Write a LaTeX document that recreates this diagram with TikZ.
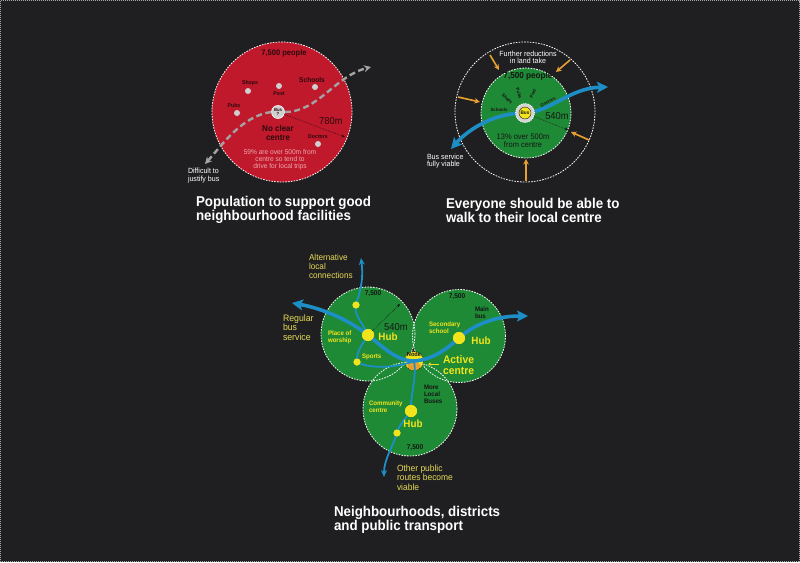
\documentclass[tikz,border=0pt]{standalone}
\usepackage{fontspec}
\setmainfont{Liberation Sans}[FakeStretch=0.94]
\usetikzlibrary{arrows.meta}
\definecolor{bg}{HTML}{1F1F21}
\definecolor{redc}{HTML}{C0192C}
\definecolor{greenc}{HTML}{1F8A36}
\definecolor{bluec}{HTML}{1E8FC6}
\definecolor{yel}{HTML}{F2E41C}
\definecolor{yeltxt}{HTML}{E6DA55}
\definecolor{orng}{HTML}{E8A030}
\definecolor{darktxt}{HTML}{151515}
\definecolor{darkred}{HTML}{2B080C}
\definecolor{pinktxt}{HTML}{EDA9AE}
\definecolor{greydot}{HTML}{CFCFCF}
\definecolor{gdashc}{HTML}{A3A3A3}
\begin{document}
\begin{tikzpicture}[x=1pt,y=-1pt,
  zone/.style={draw=white, line width=0.8pt, dash pattern=on 1.6pt off 1.2pt},
  fdot/.style={circle, fill=greydot, inner sep=0, minimum size=6pt},
  txt/.style={inner sep=0, outer sep=0},
  rlbl/.style={txt, font=\bfseries\fontsize{5.5}{6}\selectfont, text=darkred},
  glbl/.style={txt, font=\bfseries\fontsize{4.6}{5}\selectfont, text=darktxt},
  clbl/.style={txt, font=\bfseries\fontsize{6.5}{7.2}\selectfont, text=darktxt, align=left, anchor=west},
  ylbl/.style={txt, font=\bfseries\fontsize{6.5}{7.2}\selectfont, text=yel, align=left, anchor=west},
  hublbl/.style={txt, font=\bfseries\fontsize{10.5}{11}\selectfont, text=yel},
  yreg/.style={txt, font=\fontsize{9}{9.5}\selectfont, text=yeltxt, align=left, anchor=west},
  wlbl/.style={txt, font=\fontsize{7.5}{7.8}\selectfont, text=white, align=left, anchor=west},
  title/.style={txt, font=\bfseries\fontsize{14.2}{14}\selectfont, text=white, align=left, anchor=west},
  gdash/.style={draw=gdashc, line width=2.4pt, dash pattern=on 6pt off 3.5pt, -{Stealth[length=7pt,width=7pt]}},
  bigblue/.style={draw=bluec, line width=3.6pt, {Stealth[length=11pt,width=11pt,inset=2.5pt]}-{Stealth[length=11pt,width=11pt,inset=2.5pt]}},
  thinblue/.style={draw=bluec, line width=1.8pt},
  oarrow/.style={draw=orng, line width=1.6pt, -{Stealth[length=5.5pt,width=5.5pt]}},
  hub/.style={circle, fill=yel, inner sep=0, minimum size=12pt},
  ydot/.style={circle, fill=yel, inner sep=0, minimum size=7pt},
  meas/.style={draw=darktxt, line width=0.6pt, densely dotted, -{Stealth[length=3.5pt,width=3pt]}}
]
\useasboundingbox (0,0) rectangle (800,562);
\fill[bg] (0,0) rectangle (800,562);
\draw[gray!70, line width=0.6pt, dash pattern=on 1pt off 1pt] (0.5,0.5) rectangle (799.5,561.5);

% ================= Panel 1 =================
\node[circle, inner sep=0, minimum size=140pt, fill=redc, zone] (rc) at (282,112) {};
\node[txt, font=\bfseries\fontsize{8}{8}\selectfont, text=darkred] (rpeople) at (284,53) {7,500 people};
\node[fdot] (dshops) at (248,91) {};
\node[rlbl] (lshops) at (250,83) {Shops};
\node[fdot] (dpost) at (279,86) {};
\node[rlbl] (lpost) at (279,94) {Post};
\node[fdot] (dsch) at (315,87) {};
\node[txt, font=\bfseries\fontsize{7}{7}\selectfont, text=darkred] (lsch) at (312,80) {Schools};
\node[fdot] (dpubs) at (237,113) {};
\node[rlbl] (lpubs) at (234,106) {Pubs};
\node[fdot] (ddoc) at (318,144) {};
\node[rlbl] (ldoc) at (318,137) {Doctors};
\node[circle, inner sep=0, minimum size=13pt, fill=greydot, draw=white, line width=0.6pt,
      font=\bfseries\fontsize{4.5}{4.6}\selectfont, text=darkred, align=center] (bus1) at (278,112) {Bus\\?};
\coordinate (g1) at (205,164);
\coordinate (g2) at (371,67);
\draw[gdash] (bus1.west) .. controls (242,116) and (222,145) .. (g1);
\draw[gdash] (bus1.east) .. controls (318,112) and (335,76) .. (g2);
\coordinate (r780) at (345,137);
\draw[meas, draw=darkred] (bus1) -- (r780);
\node[txt, font=\fontsize{10}{10}\selectfont, text=darkred] (l780) at (331,121) {780m};
\node[txt, font=\bfseries\fontsize{8.5}{8.3}\selectfont, text=darkred, align=center] (noclear) at (278,133) {No clear\\centre};
\node[txt, font=\fontsize{7}{7}\selectfont, text=pinktxt, align=center] (p59) at (280,160) {59\% are over 500m from\\centre so tend to\\drive for local trips};
\node[wlbl] (diff) at (188,175.5) {Difficult to\\justify bus};
\node[title] (t1) at (196,210) {Population to support good\\neighbourhood facilities};

% ================= Panel 2 =================
\node[circle, inner sep=0, minimum size=140pt, zone] (outer) at (525,112) {};
\node[circle, inner sep=0, minimum size=90pt, fill=greenc, zone] (gc) at (526,113) {};
\coordinate (busc) at (525,113);
\coordinate (b1) at (451,149);
\coordinate (b2) at (608,87);
\draw[bigblue] (b1) .. controls (465,133) and (490,113) .. (busc) .. controls (550,112) and (570,88) .. (b2);
\node[circle, inner sep=0, minimum size=19pt, fill=greydot!90!white, draw=white, line width=0.7pt, dash pattern=on 1.2pt off 1pt] (ring) at (525,113) {};
\node[circle, inner sep=0, minimum size=12pt, fill=yel, draw=darktxt, line width=0.4pt,
      font=\bfseries\fontsize{5}{5}\selectfont, text=darktxt] (bus2) at (525,113) {Bus};
\coordinate (r540) at (568,130);
\draw[meas] (ring) -- (r540);
\node[txt, font=\fontsize{10}{10}\selectfont, text=darktxt] (l540) at (557,116) {540m};
\node[txt, font=\bfseries\fontsize{8.7}{9}\selectfont, text=darktxt] (gpeople) at (528,76.5) {7,500 people};
\node[glbl, rotate=-45] (gshops) at (507,99) {Shops};
\node[glbl, rotate=-72] (gpubs) at (519,93.5) {Pubs};
\node[glbl, rotate=68] (gpost) at (533,93.5) {Post};
\node[glbl, rotate=28] (gdoc) at (548,102) {Doctors};
\node[glbl] (gsch) at (499,109.5) {Schools};
\node[txt, font=\fontsize{8}{8}\selectfont, text=darktxt, align=center] (p13) at (523,141) {13\% over 500m\\from centre};
\node[txt, inner sep=0.6pt, fill=bg, font=\fontsize{7.5}{7}\selectfont, text=white, align=center] (further) at (528,57.5) {Further reductions\\in land take};
\node[wlbl] (bsv) at (427,161) {Bus service\\fully viable};
\coordinate (oa1s) at (490,55);   \coordinate (oa1e) at (499,70);
\coordinate (oa2s) at (570,60);   \coordinate (oa2e) at (556,72);
\coordinate (oa3s) at (458,97);   \coordinate (oa3e) at (480,102);
\coordinate (oa4s) at (589,140);  \coordinate (oa4e) at (571,132);
\coordinate (oa5s) at (526,181);  \coordinate (oa5e) at (526,159);
\draw[oarrow] (oa1s) -- (oa1e);
\draw[oarrow] (oa2s) -- (oa2e);
\draw[oarrow] (oa3s) -- (oa3e);
\draw[oarrow] (oa4s) -- (oa4e);
\draw[oarrow] (oa5s) -- (oa5e);
\node[title] (t2) at (446,210) {Everyone should be able to\\walk to their local centre};

% ================= Panel 3 =================
\fill[greenc] (368,334) circle (47);
\fill[greenc] (459,336) circle (46.5);
\fill[greenc] (410,409) circle (47);
\node[circle, inner sep=0, minimum size=94pt, zone] (ca) at (368,334) {};
\node[circle, inner sep=0, minimum size=93pt, zone] (cb) at (459,336) {};
\node[circle, inner sep=0, minimum size=94pt, zone] (cc) at (410,409) {};

% node marker
\node[circle, inner sep=0, minimum size=19pt, fill=yel, draw=darktxt, line width=0.6pt, dash pattern=on 1pt off 1pt] (nd) at (414,361) {};
\fill[orng] (414,366) ellipse (6.5 and 4);

\node[hub] (hubA) at (368,335) {};
\node[hub] (hubB) at (459,338) {};
\node[hub] (hubC) at (411,411) {};
\node[ydot] (d1) at (356,305) {};
\node[ydot] (d2) at (357,362) {};
\node[ydot] (d3) at (397,433) {};
\coordinate (t1l) at (292,303);
\coordinate (t2r) at (528,316);
\coordinate (t3) at (361,258);
\coordinate (t4) at (384,477);

% thin local lines
\draw[thinblue, -{Stealth[length=7pt,width=6pt]}] (hubA.center) .. controls (362,322) and (353,313) .. (d1.center) .. controls (359,294) and (364,282) .. (t3);
\draw[thinblue] (hubA.center) .. controls (362,345) and (356,352) .. (d2.center);
\draw[thinblue] (d2.center) .. controls (368,369) and (398,368) .. (nd.center);
\draw[thinblue, -{Stealth[length=7pt,width=6pt]}] (nd.center) .. controls (417,378) and (410,396) .. (hubC.center) .. controls (405,419) and (399,425) .. (d3.center) .. controls (392,448) and (384,460) .. (t4);
% main bus line
\draw[bigblue] (t1l) .. controls (320,308) and (346,318) .. (hubA.center) .. controls (384,348) and (397,361) .. (nd.center) .. controls (431,360) and (446,350) .. (hubB.center) .. controls (471,327) and (492,316) .. (t2r);

\node[hub] at (hubA) {};
\node[hub] at (hubB) {};
\node[hub] at (hubC) {};
\node[ydot] at (d1) {};
\node[ydot] at (d2) {};
\node[ydot] at (d3) {};
\node[txt, font=\bfseries\fontsize{6}{6}\selectfont, text=darktxt] (ndlbl) at (414,354.5) {Node};

\node[txt, font=\bfseries\fontsize{7}{7}\selectfont, text=darktxt] (pa) at (373,294) {7,500};
\node[txt, font=\bfseries\fontsize{7}{7}\selectfont, text=darktxt] (pb) at (457,297) {7,500};
\node[txt, font=\bfseries\fontsize{7}{7}\selectfont, text=darktxt] (pc) at (415,448) {7,500};
\coordinate (r540b) at (400,304);
\draw[meas] (hubA) -- (r540b);
\node[txt, font=\fontsize{10}{10}\selectfont, text=darktxt] (l540b) at (396,327) {540m};
\node[ylbl] (pow) at (328,337) {Place of\\worship};
\node[hublbl] (hA) at (388,337) {Hub};
\node[ylbl] (sports) at (362,357) {Sports};
\node[ylbl] (sec) at (429,327.5) {Secondary\\school};
\node[hublbl] (hB) at (481,341) {Hub};
\node[clbl] (mainbus) at (475,313) {Main\\bus};
\node[txt, font=\bfseries\fontsize{11}{10.5}\selectfont, text=yel, align=left, anchor=west] (active) at (443,365) {Active\\centre};
\coordinate (aa1) at (439,364);
\coordinate (aa2) at (428,364);
\draw[draw=yel, line width=0.8pt, -{Stealth[length=3pt,width=3pt]}] (aa1) -- (aa2);
\node[clbl] (morelocal) at (424,394) {More\\Local\\Buses};
\node[ylbl] (comm) at (369,407) {Community\\centre};
\node[hublbl] (hC) at (413,424) {Hub};
\node[yreg] (other) at (397,477.5) {Other public\\routes become\\viable};
\node[yreg, font=\fontsize{8.7}{9}\selectfont] (alt) at (309,266) {Alternative\\local\\connections};
\node[yreg, font=\fontsize{9.3}{9.5}\selectfont] (reg) at (283,327.5) {Regular\\bus\\service};
\node[title] (t3t) at (334,519.5) {Neighbourhoods, districts\\and public transport};
\end{tikzpicture}
\end{document}
